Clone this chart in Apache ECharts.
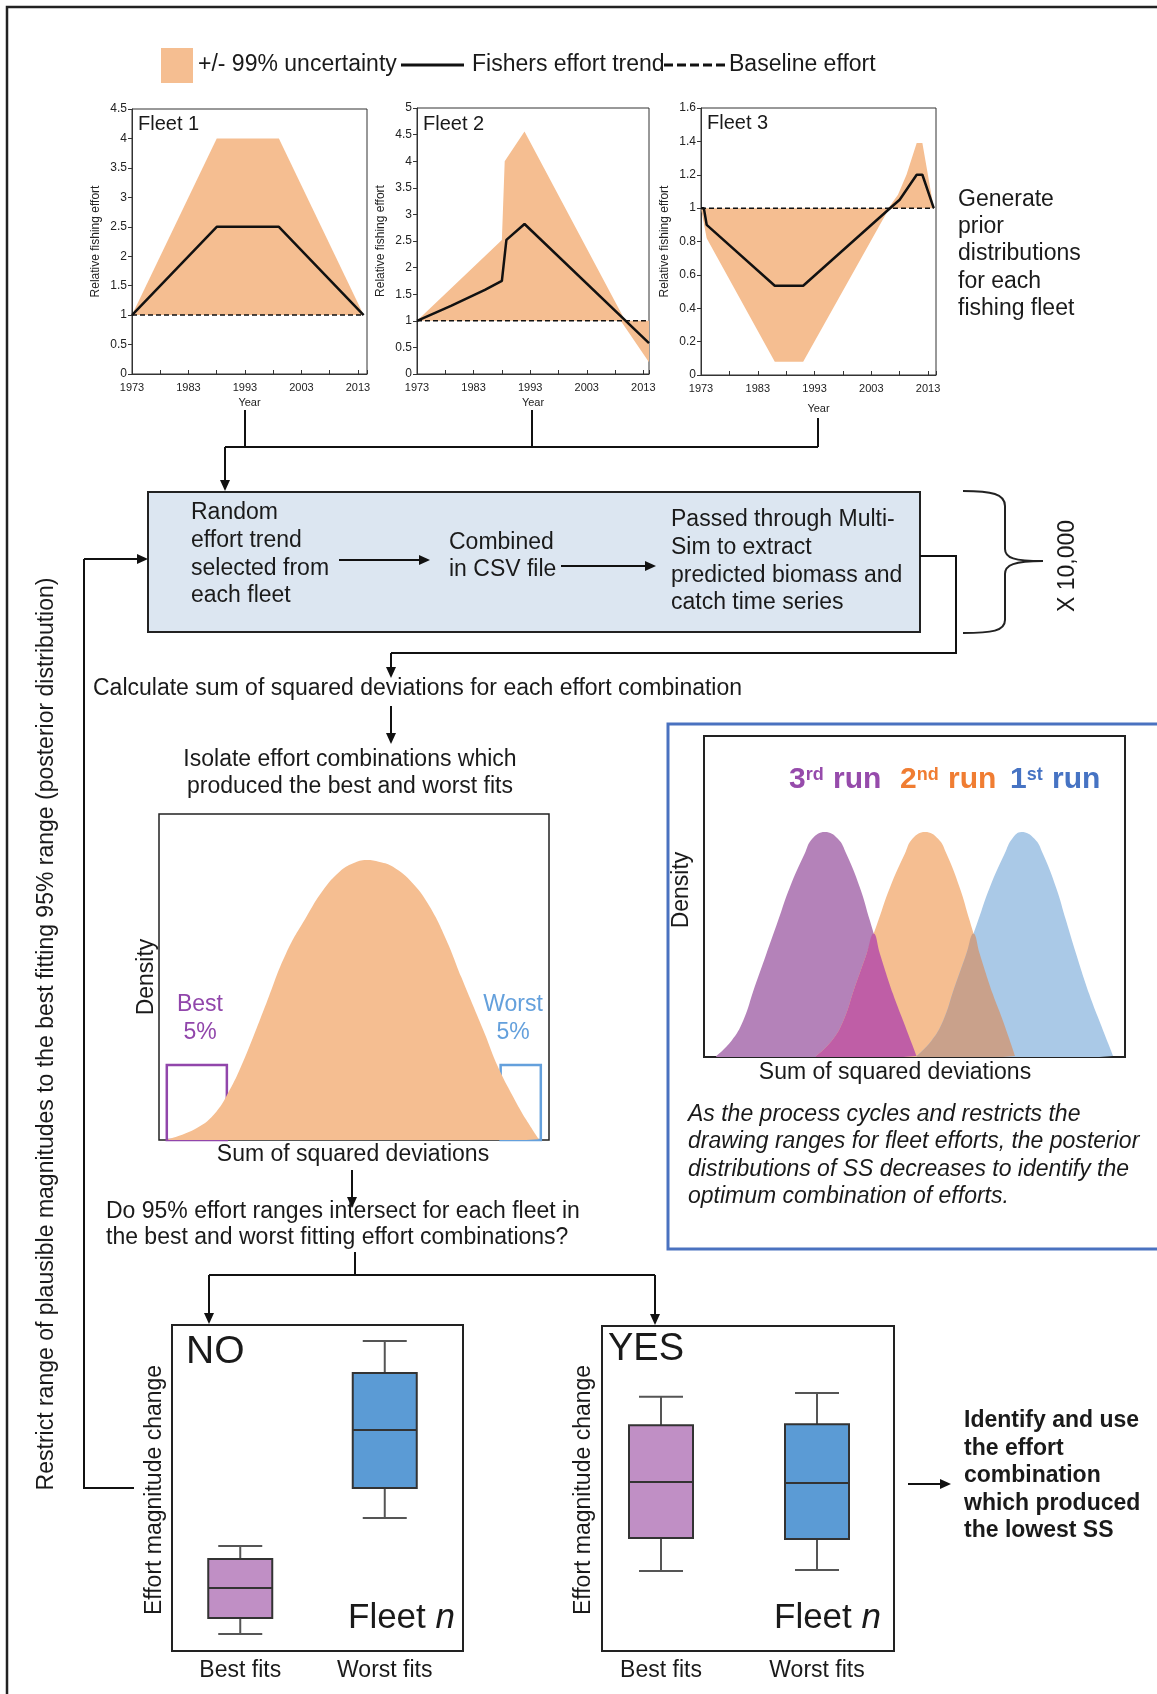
<!DOCTYPE html>
<html>
<head>
<meta charset="utf-8">
<title>Fleet effort estimation workflow</title>
<script src="https://cdn.jsdelivr.net/npm/echarts@6/dist/echarts.min.js"></script>
<style>
    html, body { margin: 0; padding: 0; background: #fff; }
    #main { width: 1157px; height: 1694px; }
</style>
</head>
<body>
<div id="main"></div>
<script>
// ---- data ----
var fleetNames = ['Fleet 1', 'Fleet 2', 'Fleet 3'];
var fleetYMax = [4.5, 5, 1.6];
var fleetYStep = [0.5, 0.5, 0.2];
var fleetYearMax = [2014.6, 2014, 2014.4];

// [year, relative effort]
var fleet1Trend = [[1973, 1], [1988, 2.5], [1999, 2.5], [2014, 1]];
var fleet1Upper = [[1973, 1], [1988, 4], [1999, 4], [2014, 1]];
var fleet1Lower = [[1973, 1], [2014, 1]];

var fleet2Trend = [[1973, 1], [1979, 1.28], [1985, 1.58], [1988, 1.75], [1988.8, 2.52], [1992, 2.82], [2014, 0.58]];
var fleet2Upper = [[1973, 1], [1988, 2.52], [1988.5, 4], [1992, 4.56], [2009.8, 1], [2014, 1]];
var fleet2Lower = [[1973, 1], [2009, 1], [2014, 0.22]];

var fleet3Trend = [[1973, 1], [1973.5, 1], [1974, 0.9], [1986, 0.535], [1991, 0.535], [2006, 0.99], [2008, 1.05], [2011, 1.2], [2012, 1.2], [2014, 1]];
var fleet3Upper = [[1973, 1], [2006, 1], [2007.7, 1.08], [2009.2, 1.2], [2011, 1.39], [2012, 1.39], [2014, 1]];
var fleet3Lower = [[1973, 1], [1974, 0.82], [1986, 0.08], [1991, 0.08], [2006, 0.99], [2007, 1], [2014, 1]];

var baseline = [[1973, 1], [2014, 1]];

// density of sum of squares (x, density), 0-100 frame units
var ssqCurve = [[2.3, 0.2], [9.6, 3.6], [14.7, 8.7], [18.1, 15.3], [21.0, 22.5], [24.5, 32.7], [27.5, 41.9], [32.6, 57.3], [37.8, 68.5], [42.1, 76.7], [46.3, 82.3], [49.8, 84.9], [53.2, 85.9], [56.6, 85.3], [60.0, 83.8], [65.1, 78.7], [69.4, 71.6], [73.7, 61.3], [77.5, 50.0], [80.3, 41.9], [83.5, 32.7], [86.9, 22.5], [90.8, 13.3], [94.2, 6.1], [97.4, 0.2]];
// best / worst 5% windows [x0, y0, x1, y1]
var fitWindows = [[2.0, 0, 17.4, 23], [87.6, 0, 97.9, 23]];

var run3 = [[2.9, 0.3], [6.5, 5], [9.3, 11.3], [12.0, 21.7], [14.8, 32.1], [17.6, 42.5], [20.4, 52.9], [23.9, 63.3], [25.7, 68.0], [28.7, 70.1], [31.8, 68.0], [33.8, 63.3], [37.0, 52.9], [39.4, 42.5], [41.8, 32.1], [44.9, 19.6], [47.3, 11.3], [50.5, 0.3]];
var run2 = [[26.6, 0.3], [30.3, 5], [33.1, 11.3], [35.8, 21.7], [38.6, 32.1], [41.4, 42.5], [44.2, 52.9], [47.7, 63.3], [49.5, 68.0], [52.5, 70.1], [55.6, 68.0], [57.6, 63.3], [60.7, 52.9], [63.1, 42.5], [65.5, 32.1], [68.6, 19.6], [71.0, 11.3], [73.9, 0.3]];
var run1 = [[50.5, 0.3], [54.0, 5], [56.8, 11.3], [59.5, 21.7], [62.3, 32.1], [65.1, 42.5], [67.9, 52.9], [71.4, 63.3], [73.2, 68.0], [75.4, 70.1], [78.5, 68.0], [80.5, 63.3], [83.6, 52.9], [86.0, 42.5], [88.4, 32.1], [91.5, 19.6], [93.9, 11.3], [97.2, 0.3]];
// where two runs overlap
var run32Overlap = [[26.6, 0.3], [30.3, 5], [33.1, 11.3], [35.8, 21.7], [38.6, 32.1], [40.3, 38.5], [41.8, 32.1], [44.9, 19.6], [47.3, 11.3], [50.5, 0.3]];
var run21Overlap = [[50.5, 0.3], [54.0, 5], [56.8, 11.3], [59.5, 21.7], [62.3, 32.1], [64.0, 38.5], [65.5, 32.1], [68.6, 19.6], [71.0, 11.3], [73.9, 0.3]];

// box plots: [category, low, q1, median, q3, high]
var fitLabels = ['Best fits', 'Worst fits'];
var noFits = [[0, 5.2, 10.1, 19.3, 28.2, 32.2], [1, 40.8, 50.0, 67.8, 85.3, 95.1]];
var yesFits = [[0, 24.6, 34.8, 52.0, 69.5, 78.2], [1, 24.9, 34.5, 51.7, 69.8, 79.4]];

// ---- styles ----
var FONT = '"Liberation Sans", Arial, sans-serif';
var INK = '#1a1a1a';
var BAND = '#f5be91';
var boxFill = ['#c08fc5', '#5b9bd5'];
var windowColors = ['#9146ab', '#64a0dc'];

(function () {
    var myChart = echarts.init(document.getElementById('main'), null, { renderer: 'canvas' });

    var fleetGrids = [
        { left: 132, top: 109, width: 235, height: 265 },
        { left: 417, top: 108, width: 232, height: 266 },
        { left: 701, top: 108, width: 235, height: 267 }
    ];
    var yearGap = [23, 23, 28];
    var grids = [];
    fleetGrids.forEach(function (g) {
        grids.push(Object.assign({ show: true, borderColor: '#333', borderWidth: 1, backgroundColor: 'transparent', outerBoundsMode: 'none', containLabel: false }, g));
    });
    grids.push({ left: 159, top: 814, width: 390, height: 326, show: true, borderColor: '#222', borderWidth: 1.5, outerBoundsMode: 'none' });
    grids.push({ left: 704, top: 736, width: 421, height: 321, show: true, borderColor: '#222', borderWidth: 2, outerBoundsMode: 'none' });
    grids.push({ left: 168, top: 1325, width: 289, height: 326, outerBoundsMode: 'none' });
    grids.push({ left: 583, top: 1326, width: 312, height: 325, outerBoundsMode: 'none' });

    var xAxes = [], yAxes = [];
    for (var i = 0; i < 3; i++) {
        xAxes.push({
            type: 'value', gridIndex: i, min: 1973, max: fleetYearMax[i], interval: 10,
            axisLine: { show: true, lineStyle: { color: '#333' } },
            axisTick: { show: true, inside: true, length: 4, lineStyle: { color: '#333' } },
            minorTick: { show: true, splitNumber: 2, length: 4, lineStyle: { color: '#333' } },
            splitLine: { show: false },
            axisLabel: {
                fontSize: 11, color: '#222', fontFamily: FONT, margin: 8,
                formatter: function (v) { return (v - 1973) % 10 === 0 ? String(v) : ''; }
            },
            name: 'Year', nameLocation: 'middle', nameGap: yearGap[i],
            nameTextStyle: { fontSize: 11, color: '#222', fontFamily: FONT }
        });
        yAxes.push({
            type: 'value', gridIndex: i, min: 0, max: fleetYMax[i], interval: fleetYStep[i],
            axisLine: { show: true, lineStyle: { color: '#333' } },
            axisTick: { show: true, length: 4, lineStyle: { color: '#333' } },
            splitLine: { show: false },
            axisLabel: { fontSize: 12, color: '#222', fontFamily: FONT, margin: 5 },
            name: 'Relative fishing effort', nameLocation: 'middle', nameGap: 30,
            nameTextStyle: { fontSize: 12, color: '#222', fontFamily: FONT }
        });
    }
    // density panels: bare 0-100 frames
    [3, 4].forEach(function (k) {
        xAxes.push({ type: 'value', gridIndex: k, min: 0, max: 100, show: false });
        yAxes.push({ type: 'value', gridIndex: k, min: 0, max: 100, show: false });
    });
    // box plot panels
    [5, 6].forEach(function (k) {
        xAxes.push({
            type: 'category', gridIndex: k, data: fitLabels,
            axisLine: { show: false }, axisTick: { show: false },
            axisLabel: { fontSize: 23, color: INK, fontFamily: FONT, margin: 8, interval: 0 }
        });
        yAxes.push({ type: 'value', gridIndex: k, min: 0, max: 100, show: false });
    });

    function bandSeries(k, upper, lower) {
        return {
            type: 'custom', xAxisIndex: k, yAxisIndex: k, z: 1, silent: true,
            data: [upper[0]],
            renderItem: function (params, api) {
                var pts = upper.concat(lower.slice().reverse()).map(function (p) { return api.coord(p); });
                return { type: 'polygon', shape: { points: pts }, style: { fill: BAND } };
            }
        };
    }
    function trendSeries(k, data) {
        return {
            type: 'line', xAxisIndex: k, yAxisIndex: k, data: data, symbol: 'none', z: 4, silent: true,
            lineStyle: { color: '#111', width: 2.5 }
        };
    }
    function baseSeries(k) {
        return {
            type: 'line', xAxisIndex: k, yAxisIndex: k, data: baseline, symbol: 'none', z: 3, silent: true,
            lineStyle: { color: '#111', width: 1.5, type: [5, 3] }
        };
    }
    function areaSeries(k, data, color) {
        return {
            type: 'line', xAxisIndex: k, yAxisIndex: k, data: data, symbol: 'none', silent: true,
            smooth: 0.45,
            lineStyle: { width: 0 }, areaStyle: { color: color, opacity: 1 }
        };
    }
    function boxSeries(k, rows) {
        return {
            type: 'custom', xAxisIndex: k, yAxisIndex: k, silent: true, data: rows,
            encode: { x: 0, y: [1, 2, 3, 4, 5] },
            renderItem: function (params, api) {
                var c = api.value(0);
                var lo = api.coord([c, api.value(1)]);
                var q1 = api.coord([c, api.value(2)]);
                var md = api.coord([c, api.value(3)]);
                var q3 = api.coord([c, api.value(4)]);
                var hi = api.coord([c, api.value(5)]);
                var cx = lo[0], hw = 32, cw = 22;
                var wh = { stroke: '#555', lineWidth: 2 };
                return {
                    type: 'group',
                    children: [
                        { type: 'line', shape: { x1: cx, y1: hi[1], x2: cx, y2: q3[1] }, style: wh },
                        { type: 'line', shape: { x1: cx - cw, y1: hi[1], x2: cx + cw, y2: hi[1] }, style: wh },
                        { type: 'line', shape: { x1: cx, y1: q1[1], x2: cx, y2: lo[1] }, style: wh },
                        { type: 'line', shape: { x1: cx - cw, y1: lo[1], x2: cx + cw, y2: lo[1] }, style: wh },
                        { type: 'rect', shape: { x: cx - hw, y: q3[1], width: hw * 2, height: q1[1] - q3[1] }, style: { fill: boxFill[c], stroke: '#333', lineWidth: 2 } },
                        { type: 'line', shape: { x1: cx - hw, y1: md[1], x2: cx + hw, y2: md[1] }, style: { stroke: '#333', lineWidth: 2 } }
                    ]
                };
            }
        };
    }

    var series = [
        bandSeries(0, fleet1Upper, fleet1Lower), baseSeries(0), trendSeries(0, fleet1Trend),
        bandSeries(1, fleet2Upper, fleet2Lower), baseSeries(1), trendSeries(1, fleet2Trend),
        bandSeries(2, fleet3Upper, fleet3Lower), baseSeries(2), trendSeries(2, fleet3Trend),
        areaSeries(3, ssqCurve, BAND),
        {
            type: 'custom', xAxisIndex: 3, yAxisIndex: 3, silent: true, data: fitWindows,
            encode: { x: [0, 2], y: [1, 3] },
            renderItem: function (params, api) {
                var a = api.coord([api.value(0), api.value(1)]);
                var b = api.coord([api.value(2), api.value(3)]);
                return {
                    type: 'rect',
                    shape: { x: a[0], y: b[1], width: b[0] - a[0], height: a[1] - b[1] },
                    style: { fill: null, stroke: windowColors[params.dataIndex], lineWidth: 2.5 }
                };
            }
        },
        areaSeries(4, run3, '#b482b9'),
        areaSeries(4, run2, '#f5be91'),
        areaSeries(4, run1, '#aac9e7'),
        areaSeries(4, run32Overlap, '#bf5ea6'),
        areaSeries(4, run21Overlap, '#c9a18b'),
        boxSeries(5, noFits),
        boxSeries(6, yesFits)
    ];

    // ---- flowchart drawing ----
    var g = [];
    function text(x, y, s, o) {
        o = o || {};
        var st = {
            text: s, fill: o.color || INK, fontFamily: FONT, fontSize: o.size || 23,
            fontWeight: o.weight || 'normal', fontStyle: o.italic ? 'italic' : 'normal',
            lineHeight: o.lh || 27, align: o.align || 'left', verticalAlign: o.valign || 'middle'
        };
        if (o.rich) st.rich = o.rich;
        g.push({ type: 'text', x: x, y: y, rotation: o.rotation || 0, silent: true, z: 20, style: st });
    }
    function line(pts, o) {
        o = o || {};
        g.push({ type: 'polyline', silent: true, z: 15, shape: { points: pts },
            style: { stroke: o.color || '#111', lineWidth: o.width || 2, fill: null, lineDash: o.dash || null } });
    }
    function curve(x1, y1, c1x, c1y, c2x, c2y, x2, y2) {
        g.push({ type: 'bezierCurve', silent: true, z: 15,
            shape: { x1: x1, y1: y1, cpx1: c1x, cpy1: c1y, cpx2: c2x, cpy2: c2y, x2: x2, y2: y2 },
            style: { stroke: '#222', lineWidth: 2, fill: null } });
    }
    function arrow(pts) {
        var a = pts[pts.length - 2], b = pts[pts.length - 1];
        var ang = Math.atan2(b[1] - a[1], b[0] - a[0]);
        var L = 11, W = 5;
        var base = [b[0] - L * Math.cos(ang), b[1] - L * Math.sin(ang)];
        line(pts.slice(0, -1).concat([base]));
        g.push({ type: 'polygon', silent: true, z: 15, shape: { points: [b,
            [base[0] + W * Math.sin(ang), base[1] - W * Math.cos(ang)],
            [base[0] - W * Math.sin(ang), base[1] + W * Math.cos(ang)]] }, style: { fill: '#111' } });
    }

    // outer frame
    line([[7, 1694], [7, 7], [1157, 7]], { width: 2.5, color: '#222' });

    // legend
    g.push({ type: 'rect', silent: true, shape: { x: 161, y: 48, width: 32, height: 35 }, style: { fill: BAND } });
    text(198, 65, '+/- 99% uncertainty');
    line([[401, 65], [464, 65]], { width: 3 });
    text(472, 65, 'Fishers effort trend');
    line([[664, 65], [727, 65]], { width: 3, dash: [9, 4] });
    text(729, 65, 'Baseline effort');

    // fleet titles
    text(138, 124, fleetNames[0], { size: 20 });
    text(423, 124, fleetNames[1], { size: 20 });
    text(707, 123, fleetNames[2], { size: 20 });
    text(958, 186, 'Generate\nprior\ndistributions\nfor each\nfishing fleet', { valign: 'top', lh: 27.2 });

    // connectors from the fleet charts
    line([[245, 410], [245, 447]]);
    line([[532, 410], [532, 447]]);
    line([[818, 418], [818, 447]]);
    line([[225, 447], [818, 447]]);
    arrow([[225, 447], [225, 491]]);

    // simulation box
    g.push({ type: 'rect', silent: true, z: 10, shape: { x: 148, y: 492, width: 772, height: 140 }, style: { fill: '#dce6f1', stroke: '#222', lineWidth: 2 } });
    text(191, 499, 'Random\neffort trend\nselected from\neach fleet', { valign: 'top', lh: 27.7 });
    text(449, 529, 'Combined\nin CSV file', { valign: 'top', lh: 27 });
    text(671, 506, 'Passed through Multi-\nSim to extract\npredicted biomass and\ncatch time series', { valign: 'top', lh: 27.7 });
    arrow([[339, 560], [430, 560]]);
    arrow([[561, 566], [656, 566]]);

    // repeat loop and brace
    line([[134, 1488], [84, 1488], [84, 559]]);
    arrow([[84, 559], [148, 559]]);
    line([[920, 556], [956, 556], [956, 653], [391, 653]]);
    arrow([[391, 653], [391, 678]]);
    curve(963, 491, 992, 491, 1005, 494, 1005, 506);
    line([[1005, 506], [1005, 549]], { color: '#222' });
    curve(1005, 549, 1005, 558, 1014, 561, 1043, 561);
    curve(1043, 561, 1014, 561, 1005, 565, 1005, 574);
    line([[1005, 574], [1005, 620]], { color: '#222' });
    curve(1005, 620, 1005, 631, 992, 633, 963, 633);
    text(1068, 566, 'X 10,000', { rotation: Math.PI / 2, align: 'center' });
    text(47, 1034, 'Restrict range of plausible magnitudes to the best fitting 95% range (posterior distribution)', { rotation: Math.PI / 2, align: 'center' });

    text(93, 689, 'Calculate sum of squared deviations for each effort combination');
    arrow([[391, 706], [391, 744]]);
    text(350, 746, 'Isolate effort combinations which\nproduced the best and worst fits', { valign: 'top', align: 'center', lh: 27 });

    // left density labels
    text(147, 977, 'Density', { rotation: Math.PI / 2, align: 'center' });
    text(200, 1019, 'Best\n5%', { align: 'center', color: windowColors[0], lh: 28 });
    text(513, 1019, 'Worst\n5%', { align: 'center', color: windowColors[1], lh: 28 });
    text(353, 1155, 'Sum of squared deviations', { align: 'center' });
    arrow([[352, 1170], [352, 1208]]);
    text(106, 1198, 'Do 95% effort ranges intersect for each fleet in\nthe best and worst fitting effort combinations?', { valign: 'top', lh: 26.5 });
    line([[355, 1252], [355, 1275]]);
    line([[209, 1275], [655, 1275]]);
    arrow([[209, 1275], [209, 1324]]);
    arrow([[655, 1275], [655, 1325]]);

    // box plot frames and labels
    g.push({ type: 'rect', silent: true, z: 12, shape: { x: 172, y: 1325, width: 291, height: 326 }, style: { fill: null, stroke: '#222', lineWidth: 2 } });
    g.push({ type: 'rect', silent: true, z: 12, shape: { x: 602, y: 1326, width: 292, height: 325 }, style: { fill: null, stroke: '#222', lineWidth: 2 } });
    text(186, 1352, 'NO', { size: 39 });
    text(608, 1350, 'YES', { size: 38 });
    var fleetRich = { a: { fontSize: 35, fontFamily: FONT, fill: INK }, b: { fontSize: 35, fontFamily: FONT, fontStyle: 'italic', fill: INK } };
    text(455, 1618, '{a|Fleet }{b|n}', { align: 'right', rich: fleetRich });
    text(881, 1618, '{a|Fleet }{b|n}', { align: 'right', rich: fleetRich });
    text(155, 1490, 'Effort magnitude change', { rotation: Math.PI / 2, align: 'center' });
    text(584, 1490, 'Effort magnitude change', { rotation: Math.PI / 2, align: 'center' });
    arrow([[908, 1484], [951, 1484]]);
    text(964, 1407, 'Identify and use\nthe effort\ncombination\nwhich produced\nthe lowest SS', { valign: 'top', weight: 'bold', lh: 27.5 });

    // right panel
    g.push({ type: 'rect', silent: true, z: 12, shape: { x: 668, y: 724, width: 520, height: 525 }, style: { fill: null, stroke: '#4a72c0', lineWidth: 3 } });
    text(682, 890, 'Density', { rotation: Math.PI / 2, align: 'center' });
    function runRich(color) {
        return {
            n: { fontSize: 30, fontWeight: 'bold', fontFamily: FONT, fill: color },
            s: { fontSize: 18, fontWeight: 'bold', fontFamily: FONT, fill: color, verticalAlign: 'top', padding: [0, 1, 0, 0] }
        };
    }
    text(789, 780, '{n|3}{s|rd}{n| run}', { rich: runRich('#964bab') });
    text(900, 780, '{n|2}{s|nd}{n| run}', { rich: runRich('#f07d32') });
    text(1010, 780, '{n|1}{s|st}{n| run}', { rich: runRich('#4673c3') });
    text(895, 1073, 'Sum of squared deviations', { align: 'center' });
    text(688, 1101, 'As the process cycles and restricts the\ndrawing ranges for fleet efforts, the posterior\ndistributions of SS decreases to identify the\noptimum combination of efforts.', { valign: 'top', italic: true, lh: 27.3 });

    var option = {
        animation: false,
        backgroundColor: '#fff',
        grid: grids,
        xAxis: xAxes,
        yAxis: yAxes,
        series: series,
        graphic: { elements: g }
    };
    myChart.setOption(option);
})();
</script>
</body>
</html>
